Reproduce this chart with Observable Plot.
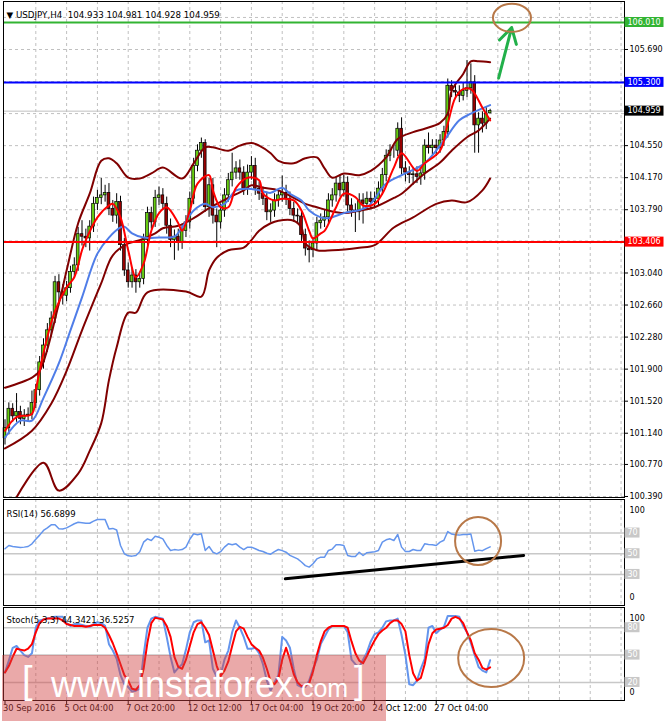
<!DOCTYPE html>
<html><head><meta charset="utf-8">
<script src="https://cdn.jsdelivr.net/npm/d3@7"></script>
<script src="https://cdn.jsdelivr.net/npm/@observablehq/plot@0.6"></script>
<style>
body{margin:0;background:#fff;}
#c{position:relative;width:665px;height:721px;overflow:hidden;background:#fff;}
#c svg{position:absolute;left:0;}
</style></head><body><div id="c"></div>
<script>
// ---------- DATA ----------
const openP = [
101.08,101.20,101.43,101.34,101.39,101.31,101.35,101.36,101.50,101.65,
101.98,102.18,102.36,102.50,102.93,102.81,102.77,102.86,103.05,103.13,
103.50,103.47,103.45,103.59,103.86,103.93,103.96,103.99,103.80,103.72,
103.88,103.37,103.07,102.93,103.01,102.93,102.97,103.43,103.75,103.64,
103.93,103.96,103.86,103.60,103.43,103.47,103.40,103.54,103.64,103.92,
104.31,104.49,104.58,103.82,104.08,103.72,103.64,103.78,103.96,104.14,
104.23,104.28,104.23,104.04,104.23,104.31,104.04,103.98,103.92,103.76,
103.78,103.90,103.96,103.99,103.92,103.80,103.72,103.71,103.49,103.33,
103.31,103.39,103.63,103.66,103.70,103.90,103.96,104.10,104.02,104.11,
103.84,103.78,103.76,103.90,103.86,103.92,103.88,103.92,104.04,104.20,
104.43,104.49,104.49,104.75,104.28,104.23,104.20,104.21,104.18,104.22,
104.55,104.52,104.55,104.52,104.61,104.71,105.26,105.20,105.18,105.14,
105.20,105.23,105.30,104.79,104.87,104.81,104.933];
const highP = [
101.30,101.50,101.49,101.61,101.46,101.42,101.44,101.64,101.72,102.05,
102.26,102.44,102.58,103.00,103.02,102.90,102.94,103.12,103.22,103.58,
103.66,103.56,103.66,103.94,104.02,104.16,104.08,104.10,103.90,103.98,
103.95,103.45,103.16,103.10,103.08,103.05,103.50,103.82,103.82,104.02,
104.06,104.04,103.94,103.68,103.55,103.56,103.62,103.72,104.00,104.40,
104.56,104.64,104.62,104.16,104.16,103.80,103.86,104.04,104.22,104.46,
104.36,104.38,104.30,104.32,104.42,104.40,104.12,104.06,104.00,103.86,
103.98,104.04,104.19,104.08,104.00,103.88,103.80,103.78,103.56,103.42,
103.46,103.70,103.74,103.78,103.98,104.04,104.18,104.20,104.20,104.18,
103.92,103.86,103.98,103.98,104.00,104.00,104.00,104.12,104.28,104.50,
104.56,104.56,104.82,104.88,104.36,104.30,104.28,104.30,104.30,104.62,
104.70,104.62,104.62,104.68,104.78,105.34,105.32,105.28,105.26,105.30,
105.56,105.52,105.38,104.94,104.95,105.00,104.981];
const lowP = [
101.00,101.12,101.27,101.27,101.24,101.22,101.27,101.30,101.43,101.58,
101.90,102.10,102.28,102.44,102.68,102.66,102.70,102.80,102.98,103.06,
103.36,103.34,103.30,103.52,103.78,103.85,103.88,103.72,103.64,103.62,
103.30,103.00,102.86,102.86,102.80,102.86,102.90,103.36,103.56,103.58,
103.84,103.78,103.50,103.34,103.19,103.30,103.32,103.46,103.56,103.85,
104.24,104.40,103.76,103.70,103.62,103.34,103.56,103.70,103.88,104.06,
104.15,104.14,103.96,103.96,104.14,103.96,103.90,103.84,103.66,103.64,
103.70,103.82,103.88,103.84,103.72,103.64,103.62,103.40,103.24,103.16,
103.22,103.30,103.56,103.58,103.62,103.82,103.88,103.94,103.94,103.76,
103.70,103.52,103.66,103.62,103.78,103.80,103.80,103.84,103.96,104.12,
104.36,104.40,104.42,104.20,104.12,104.10,104.08,104.10,104.08,104.14,
104.45,104.44,104.42,104.46,104.54,104.64,105.12,105.10,105.06,105.08,
105.12,105.16,104.46,104.46,104.70,104.74,104.928];
const closeP = [
101.20,101.43,101.34,101.39,101.31,101.35,101.36,101.50,101.65,101.98,
102.18,102.36,102.50,102.93,102.81,102.77,102.86,103.05,103.13,103.50,
103.47,103.45,103.59,103.86,103.93,103.96,103.99,103.80,103.72,103.88,
103.37,103.07,102.93,103.01,102.93,102.97,103.43,103.75,103.64,103.93,
103.96,103.86,103.60,103.43,103.47,103.40,103.54,103.64,103.92,104.31,
104.49,104.58,103.82,104.08,103.72,103.64,103.78,103.96,104.14,104.23,
104.28,104.23,104.04,104.23,104.31,104.04,103.98,103.92,103.76,103.78,
103.90,103.96,103.99,103.92,103.80,103.72,103.71,103.49,103.33,103.31,
103.39,103.63,103.66,103.70,103.90,103.96,104.10,104.02,104.11,103.84,
103.78,103.76,103.90,103.86,103.92,103.88,103.92,104.04,104.20,104.43,
104.49,104.49,104.75,104.28,104.23,104.20,104.21,104.18,104.22,104.55,
104.52,104.55,104.52,104.61,104.71,105.26,105.20,105.18,105.14,105.20,
105.23,105.30,104.79,104.87,104.81,104.93,104.959];

// Bollinger bands (traced vertices: bar index, price)
const bbUpperIdx = [0,7,9,14,16,19,22,25,27,29,32,35,38,41,46,49,52,54,58,61,64,66,69,71,75,78,81,83,85,88,92,95,99,102,106,109,113,115,116,119,121,123,126];
const bbUpperVal = [101.68,101.80,101.88,102.68,103.07,103.63,103.98,104.37,104.40,104.34,104.17,104.16,104.22,104.29,104.16,104.34,104.53,104.53,104.49,104.55,104.58,104.55,104.46,104.37,104.34,104.40,104.41,104.28,104.17,104.22,104.20,104.25,104.41,104.63,104.71,104.75,104.82,104.93,105.20,105.40,105.55,105.55,105.54];
const bbMidIdx = [0,7,12,16,20,25,28,32,35,39,41,45,49,53,58,62,64,67,71,75,78,81,84,88,92,96,101,103,106,109,113,116,120,123,126];
const bbMidVal = [100.96,101.17,101.49,101.88,102.36,102.92,103.25,103.39,103.43,103.51,103.57,103.60,103.69,103.81,103.93,104.02,104.08,104.05,104.02,103.93,103.86,103.82,103.78,103.75,103.78,103.82,103.93,103.98,104.10,104.22,104.35,104.49,104.65,104.73,104.87];
const bbLowIdx = [3,10,14,19,22,25,27,29,32,34,37,47,51,53,55,58,62,64,66,69,71,75,77,78,81,85,92,96,101,106,112,116,120,124,126];
const bbLowVal = [100.38,100.79,100.46,100.66,100.93,101.26,101.77,102.16,102.57,102.57,102.81,102.82,102.76,103.07,103.22,103.31,103.34,103.43,103.54,103.63,103.66,103.66,103.58,103.39,103.31,103.31,103.34,103.37,103.58,103.70,103.86,103.90,103.88,104.02,104.16];
// Moving averages (traced vertices)
const maSlowIdx = [0,4,7,10,14,17,20,24,27,30,31,33,36,40,42,44,46,49,52,54,57,60,63,66,69,72,74,77,79,82,84,88,94,99,104,109,114,118,121,126];
const maSlowVal = [101.09,101.29,101.29,101.56,101.97,102.36,102.75,103.27,103.46,103.58,103.59,103.51,103.46,103.46,103.46,103.47,103.58,103.78,103.86,103.82,103.86,104.02,104.04,104.02,103.99,104.05,103.98,103.90,103.78,103.70,103.69,103.75,103.82,104.10,104.22,104.34,104.61,104.85,104.93,105.03];
const maFastIdx = [0,3,7,8,11,13,16,18,20,21,24,27,28,30,32,34,36,38,40,42,45,46,48,50,53,54,56,58,60,63,66,67,70,72,75,77,79,80,82,83,86,88,91,93,96,98,101,103,107,109,113,115,117,119,121,124,126];
const maFastVal = [101.17,101.33,101.37,101.65,102.28,102.59,102.87,102.99,103.31,103.43,103.70,103.84,103.86,103.70,103.31,102.99,103.15,103.54,103.75,103.82,103.63,103.54,103.78,104.10,104.20,104.02,103.82,103.82,104.05,104.17,104.14,103.98,103.90,103.92,103.90,103.78,103.54,103.45,103.51,103.54,103.82,103.98,103.94,103.84,103.86,103.98,104.29,104.46,104.25,104.34,104.49,104.81,105.12,105.22,105.22,105.00,104.85];

// RSI(14)
const rsiVal = [
54.8,58.0,57.0,56.5,56.0,56.4,57.0,59.6,64.0,68.0,
72.5,75.0,77.9,78.0,74.1,74.0,75.0,77.0,79.0,80.5,
80.0,79.5,79.5,81.5,83.1,83.1,83.0,74.0,74.5,73.0,
58.0,50.0,48.0,47.7,48.3,52.0,61.2,64.4,62.8,67.0,
66.0,64.4,58.0,53.2,54.0,53.5,54.0,56.4,64.0,69.3,
68.3,69.3,53.2,57.0,51.5,49.9,52.0,56.4,59.6,58.6,
59.6,56.4,54.0,56.4,56.4,54.8,53.2,52.2,50.5,49.6,
52.0,54.1,53.0,51.5,48.5,46.7,45.0,42.0,38.5,37.1,
40.3,45.0,46.7,46.7,53.2,54.5,58.6,58.6,58.0,48.3,
47.4,47.4,51.5,48.3,51.0,51.5,52.0,53.2,61.2,63.5,
64.4,62.8,68.6,56.4,52.2,52.2,54.1,53.2,53.2,59.6,
59.0,58.6,58.0,61.2,63.0,71.5,69.0,68.3,68.0,68.6,
68.6,69.0,52.5,53.5,53.0,55.0,56.7];
// Stochastic(5,3,3)
const stochMain = [
31,44,58,60,55,50,48,52,80,88,
89,90,91,92,92,92,85,82,84,84,
83,82,81,84,86,85,82,62,55,46,
28,18,15,10,11,13,50,80,90,92,
91,90,70,48,31,36,40,56,75,86,
88,88,64,66,35,26,28,45,55,75,
88,80,70,57,57,58,52,40,22,11,
20,28,70,66,58,35,17,15,15,22,
35,45,62,70,78,82,82,82,82,75,
45,40,37,45,53,65,73,75,80,87,
88,88,90,72,50,18,17,22,35,46,
80,82,74,78,81,93,93,93,92,82,
75,63,50,37,33,31,44.3];
const stochSignal = [
31,38,48,57,56,55,57,62,75,85,
89,90,90,90,90,88,84,83,82,82,
82,81,82,83,83,83,80,72,63,52,
40,28,22,13,12,17,35,64,85,91,
90,89,82,70,48,37,35,45,60,75,
84,86,80,72,55,38,27,33,43,60,
76,81,79,70,62,58,55,47,35,21,
18,24,45,58,45,29,20,16,17,19,
32,50,65,76,80,82,82,82,82,80,
65,52,44,41,49,58,66,73,77,80,
85,88,88,84,76,50,30,22,25,40,
62,74,78,79,80,83,90,92,90,85,
75,66,52,45,36,34,36.5];

// Axes / levels
const priceTicks = [106.07,105.69,105.31,104.93,104.55,104.17,103.79,103.42,103.04,102.66,102.28,101.90,101.52,101.14,100.77,100.39];
const hiddenTicks = [106.07,105.31,104.93,103.42]; // covered by the coloured price boxes
const gridBars = [8,16,24,32,40,48,56,64,72,80,88,96,104,112,120,128,136,144,152,160];
const timeBars = [0,16,32,48,64,80,96,112];
const timeLabels = ["30 Sep 2016","5 Oct 04:00","7 Oct 20:00","12 Oct 12:00","17 Oct 04:00","19 Oct 20:00","24 Oct 12:00","27 Oct 04:00"];
const levelValues = [106.010, 105.300, 103.406];
const levelLabels = ["106.010","105.300","103.406"];
const levelColors = ["#32b432","#0000ff","#ff0000"];
const lastPrice = 104.959;
const rsiLevels = [70,50,30];
const stochLevels = [80,50,20];
// Annotations (bar index, value)
const arrowFrom = [128.2, 105.35], arrowTo = [131.6, 105.95];
const circleMain = [131.8, 106.06];
const rsiTrendIdx = [72.8, 134.7], rsiTrendVal = [25.8, 48.3];
const circleRsi = [123.0, 61.8];
const circleStoch = [126.4, 46.3];

// ---------- DRAW ----------
const FONT = "DejaVu Sans";
const xDomain = [-0.39, 160.9];
const bars = closeP.map((c,i)=>({i, o:openP[i], h:highP[i], l:lowP[i], c}));
const idx = closeP.map((_, i) => i);
const baseStyle = {background:"transparent", fontFamily:FONT, fontSize:"8px", color:"#000", overflow:"visible"};
const root = document.getElementById("c");

const main = Plot.plot({
  width:665, height:498, marginLeft:3, marginRight:41, marginTop:1, marginBottom:1,
  style: baseStyle,
  x:{domain:xDomain, axis:null},
  y:{domain:[100.378,106.259], axis:"right", ticks:priceTicks,
     tickFormat:d=>hiddenTicks.includes(d) ? "" : d.toFixed(3), tickSize:3, tickPadding:2, label:null},
  marks:[
    Plot.ruleX(gridBars, {x:d=>d, stroke:"#c0c0c0", strokeDasharray:"3,3"}),
    Plot.ruleY(priceTicks, {y:d=>d, stroke:"#c0c0c0", strokeDasharray:"3,3"}),
    Plot.ruleY([lastPrice], {y:d=>d, stroke:"#c0c0c0", strokeWidth:1}),
    Plot.ruleX(bars, {x:"i", y1:"l", y2:"h", stroke:"#000", strokeWidth:1}),
    Plot.rect(bars.filter(d=>d.c>=d.o), {x1:d=>d.i-0.36, x2:d=>d.i+0.36, y1:"o", y2:"c", fill:"#66cc11", stroke:"#000", strokeWidth:0.7}),
    Plot.rect(bars.filter(d=>d.c<d.o), {x1:d=>d.i-0.36, x2:d=>d.i+0.36, y1:"o", y2:"c", fill:"#990000", stroke:"#000", strokeWidth:0.7}),
    Plot.line(bbUpperVal, {x:bbUpperIdx, y:bbUpperVal, stroke:"#800000", strokeWidth:2, curve:"catmull-rom", clip:true}),
    Plot.line(bbMidVal, {x:bbMidIdx, y:bbMidVal, stroke:"#800000", strokeWidth:2, curve:"catmull-rom", clip:true}),
    Plot.line(bbLowVal, {x:bbLowIdx, y:bbLowVal, stroke:"#800000", strokeWidth:2, curve:"catmull-rom", clip:true}),
    Plot.line(maSlowVal, {x:maSlowIdx, y:maSlowVal, stroke:"#4f7de8", strokeWidth:2, curve:"catmull-rom"}),
    Plot.line(maFastVal, {x:maFastIdx, y:maFastVal, stroke:"#ff0000", strokeWidth:2, curve:"catmull-rom"}),
    Plot.ruleY([levelValues[0]], {y:d=>d, stroke:levelColors[0], strokeWidth:2}),
    Plot.ruleY([levelValues[1]], {y:d=>d, stroke:levelColors[1], strokeWidth:2}),
    Plot.ruleY([levelValues[2]], {y:d=>d, stroke:levelColors[2], strokeWidth:2}),
    Plot.arrow([0], {x1:()=>arrowFrom[0], y1:()=>arrowFrom[1], x2:()=>arrowTo[0], y2:()=>arrowTo[1], stroke:"#22b04a", strokeWidth:3, headLength:9, bend:0}),
    Plot.frame({stroke:"#000"}),
    Plot.text(["\u25BC USDJPY,H4  104.933 104.981 104.928 104.959"], {text:d=>d, frameAnchor:"top-left", dx:3, dy:10, textAnchor:"start", fontSize:8.7, fill:"#000"})
  ]
});
main.style.top = "0px";
root.appendChild(main);

const rsiSvg = Plot.plot({
  width:665, height:107, marginLeft:3, marginRight:41, marginTop:0, marginBottom:1,
  style: baseStyle,
  x:{domain:xDomain, axis:null},
  y:{domain:[0,100], range:[106,2.5], axis:null},
  marks:[
    Plot.ruleX(gridBars, {x:d=>d, stroke:"#c0c0c0", strokeDasharray:"3,3"}),
    Plot.ruleY(rsiLevels, {y:d=>d, stroke:"#c8c8c8", strokeWidth:1.5}),
    Plot.line(rsiVal, {x:idx, y:rsiVal, stroke:"#6495ed", strokeWidth:1.5}),
    Plot.line(rsiTrendVal, {x:rsiTrendIdx, y:rsiTrendVal, stroke:"#000", strokeWidth:3}),
    Plot.frame({stroke:"#000"}),
    Plot.text(["RSI(14) 56.6899"], {text:d=>d, frameAnchor:"top-left", dx:3, dy:11, textAnchor:"start", fontSize:8.5}),
    Plot.text(["100"], {text:d=>d, frameAnchor:"top-right", dx:5, dy:8, textAnchor:"start"}),
    Plot.text(["0"], {text:d=>d, frameAnchor:"bottom-right", dx:5, dy:-6, textAnchor:"start"})
  ]
});
rsiSvg.style.top = "499px";
root.appendChild(rsiSvg);

const stSvg = Plot.plot({
  width:665, height:114, marginLeft:3, marginRight:41, marginTop:0, marginBottom:21,
  style: baseStyle,
  x:{domain:xDomain, axis:"bottom", ticks:timeBars, tickFormat:()=>"", tickSize:4, label:null},
  y:{domain:[0,100], range:[93.2,2], axis:null},
  marks:[
    Plot.ruleX(gridBars, {x:d=>d, stroke:"#c0c0c0", strokeDasharray:"3,3"}),
    Plot.ruleY(stochLevels, {y:d=>d, stroke:"#c8c8c8", strokeWidth:1.5}),
    Plot.line(stochMain, {x:idx, y:stochMain, stroke:"#6495ed", strokeWidth:2}),
    Plot.line(stochSignal, {x:idx, y:stochSignal, stroke:"#ff0000", strokeWidth:2}),
    Plot.frame({stroke:"#000"}),
    Plot.text(["Stoch(5,3,3) 44.3421 36.5257"], {text:d=>d, frameAnchor:"top-left", dx:3, dy:9, textAnchor:"start", fontSize:8.5}),
    Plot.text(["100"], {text:d=>d, frameAnchor:"top-right", dx:5, dy:8, textAnchor:"start"}),
    Plot.text(["0"], {text:d=>d, frameAnchor:"bottom-right", dx:5, dy:-6, textAnchor:"start"}),
    Plot.text(timeBars, {x:d=>d, text:(d,i)=>timeLabels[i], frameAnchor:"bottom", dy:10, dx:-2, textAnchor:"start", fontSize:8.3})
  ]
});
stSvg.style.top = "607px";
root.appendChild(stSvg);

// price-scale boxes and annotation shapes
function box(svg, cy, label, bg, fg, w) {
  const g = d3.select(svg);
  g.append("rect").attr("x", 624.5).attr("y", cy - 5).attr("width", w).attr("height", 10).attr("fill", bg);
  g.append("text").attr("x", 627.5).attr("y", cy).attr("dy", "0.35em").attr("fill", fg)
    .attr("text-anchor", "start").attr("font-family", FONT).attr("font-size", "8px").text(label);
}
const my = main.scale("y"), mx = main.scale("x");
levelValues.forEach((v,k)=>box(main, my.apply(v), levelLabels[k], levelColors[k], "#fff", 39));
box(main, my.apply(lastPrice), lastPrice.toFixed(3), "#000", "#fff", 39);
const ry = rsiSvg.scale("y");
rsiLevels.forEach(v=>box(rsiSvg, ry.apply(v), String(v), "#c8c8c8", "#fff", 15));
const sy = stSvg.scale("y");
stochLevels.forEach(v=>box(stSvg, sy.apply(v), String(v), "#c8c8c8", "#fff", 15));

function ell(svg, sx, syc, c, rx, rY) {
  d3.select(svg).append("ellipse").attr("cx", sx.apply(c[0])).attr("cy", syc.apply(c[1]))
    .attr("rx", rx).attr("ry", rY).attr("fill", "none").attr("stroke", "#b87848").attr("stroke-width", 2);
}
ell(main, mx, my, circleMain, 19, 14);
ell(rsiSvg, rsiSvg.scale("x"), ry, circleRsi, 23, 24);
ell(stSvg, stSvg.scale("x"), sy, circleStoch, 33, 29);

// watermark
const wm = d3.select(root).append("svg").attr("width", 384).attr("height", 66)
  .style("left", "2px").style("top", "655px");
wm.append("rect").attr("width", 384).attr("height", 66).attr("fill", "rgba(208,64,64,0.45)");
const wt = (x, y, s, t) => wm.append("text").attr("x", x).attr("y", y).attr("font-size", s)
  .attr("text-anchor", "start").attr("font-family", "Liberation Sans").attr("fill", "#fff").text(t);
wt(20, 38, 38, "[");
wt(49, 42, 36, "www.instaforex");
wt(292, 42, 25, ".com");
wt(352, 38, 38, "]");
</script></body></html>
